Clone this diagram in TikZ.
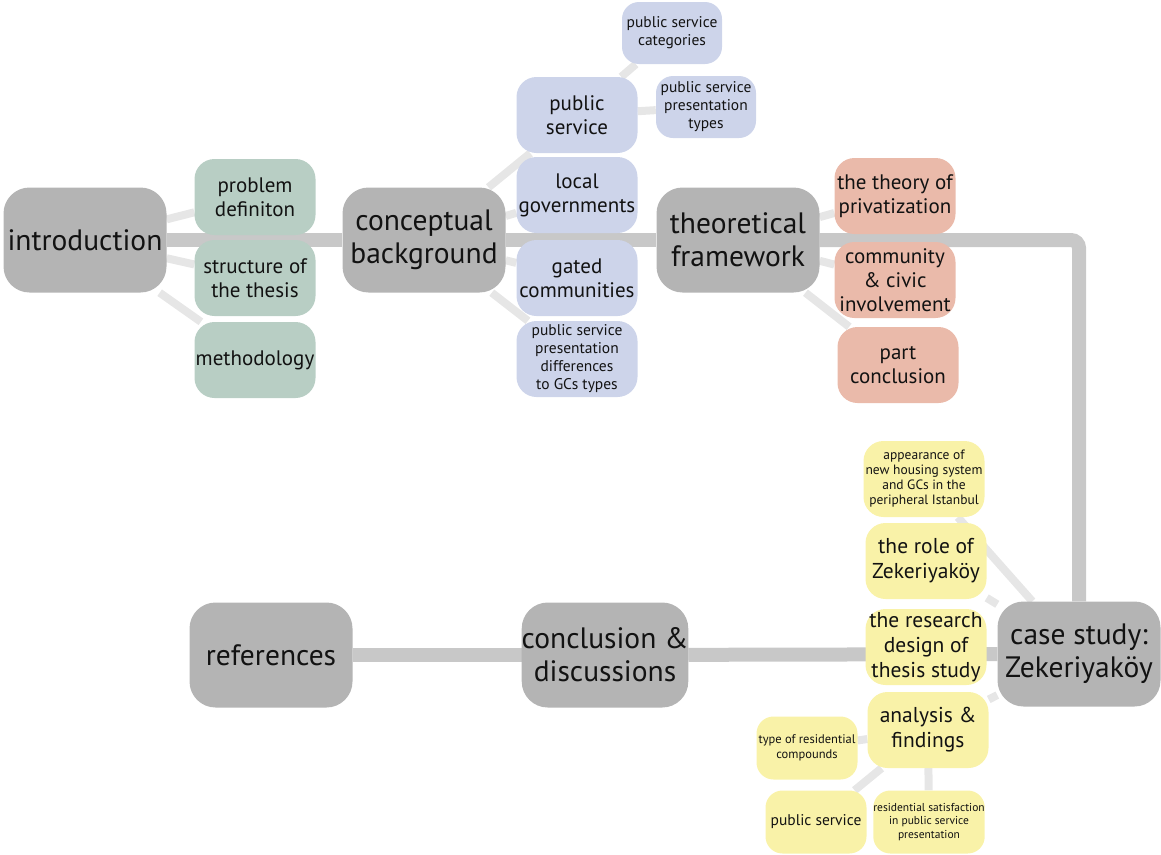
\documentclass[tikz,border=0pt]{standalone}
\usepackage{fontspec}
\setmainfont{PT Sans}
\usetikzlibrary{backgrounds}
\definecolor{gnode}{RGB}{180,180,180}
\definecolor{cgreen}{RGB}{184,206,196}
\definecolor{cblue}{RGB}{205,212,234}
\definecolor{csalmon}{RGB}{234,186,170}
\definecolor{cyellow}{RGB}{249,242,168}
\definecolor{mline}{RGB}{200,200,200}
\definecolor{sline}{RGB}{230,230,230}
\definecolor{txt}{RGB}{18,18,18}
\tikzset{
  box/.style={rounded corners=20pt, inner sep=0pt, align=center, text=txt},
  big/.style={box, rounded corners=26pt, fill=gnode, minimum width=163pt, minimum height=105pt, font=\fontsize{29.5}{33}\selectfont},
  med/.style={box, minimum width=121pt, minimum height=76pt, font=\fontsize{21}{24}\selectfont},
  sml/.style={box, rounded corners=17pt, minimum width=100pt, minimum height=62pt, font=\fontsize{15.5}{18}\selectfont},
  tiny/.style={box, rounded corners=17pt, minimum width=101pt, minimum height=63pt, font=\fontsize{11.5}{13.5}\selectfont},
  mainline/.style={line width=14pt, draw=mline},
  subline/.style={line width=8pt, draw=sline},
}
\begin{document}
\begin{tikzpicture}[x=1pt,y=-1pt]
\useasboundingbox (0,0) rectangle (1161,854);
% main nodes
\node[big] (intro) at (85,240) {introduction};
\node[big] (conc) at (424,240) {conceptual\\background};
\node[big] (theo) at (738,240) {theoretical\\framework};
\node[big] (case) at (1079,654) {case study:\\Zekeriyak\"oy};
\node[big] (cd) at (605,655) {conclusion \&\\discussions};
\node[big] (ref) at (271,655) {references};
% green
\node[med, fill=cgreen] (pd) at (255,197) {problem\\definiton};
\node[med, fill=cgreen] (st) at (255,278) {structure of\\the thesis};
\node[med, fill=cgreen] (meth) at (255,360) {methodology};
% blue
\node[med, fill=cblue] (ps) at (577,115) {public\\service};
\node[med, fill=cblue] (lg) at (577,195) {local\\governments};
\node[med, fill=cblue] (gc) at (577,278) {gated\\communities};
\node[med, fill=cblue, font=\fontsize{15.5}{18}\selectfont] (psd) at (577,359) {public service\\presentation\\differences\\to GCs types};
\node[sml, fill=cblue] (psc) at (672,33) {public service\\categories};
\node[sml, fill=cblue] (pst) at (706,107) {public service\\presentation\\types};
% salmon
\node[med, fill=csalmon] (tp) at (895,196) {the theory of\\privatization};
\node[med, fill=csalmon] (cci) at (895,280) {community\\\& civic\\involvement};
\node[med, fill=csalmon] (pc) at (898,365) {part\\conclusion};
% yellow
\node[med, fill=cyellow, font=\fontsize{13.5}{15}\selectfont] (app) at (924,479) {appearance of\\new housing system\\and GCs in the\\peripheral Istanbul};
\node[med, fill=cyellow, font=\fontsize{21.5}{25}\selectfont] (role) at (926,561) {the role of\\Zekeriyak\"oy};
\node[med, fill=cyellow, font=\fontsize{21.5}{25}\selectfont] (rd) at (926,647) {the research\\design of\\thesis study};
\node[med, fill=cyellow, font=\fontsize{21.5}{25}\selectfont] (af) at (928,730) {analysis \&\\findings};
\node[tiny, fill=cyellow, font=\fontsize{12.5}{15}\selectfont] (trc) at (807,748) {type of residential\\compounds};
\node[tiny, fill=cyellow, font=\fontsize{15.5}{18}\selectfont] (psy) at (816,822) {public service};
\node[tiny, fill=cyellow] (rs) at (929,822) {residential satisfaction\\in public service\\presentation};
\begin{pgfonlayer}{background}
  \draw[subline] (intro) -- (pd);
  \draw[subline] (intro) -- (st);
  \draw[subline] (intro) -- (meth);
  \draw[subline] (conc) -- (ps);
  \draw[subline] (conc) -- (lg);
  \draw[subline] (conc) -- (gc);
  \draw[subline] (conc) -- (psd);
  \draw[subline] (ps) -- (psc);
  \draw[subline] (ps) -- (pst);
  \draw[subline] (theo) -- (tp);
  \draw[subline] (theo) -- (cci);
  \draw[subline] (theo) -- (pc);
  \draw[subline] (case) -- (app);
  \draw[subline] (case) -- (role);
  \draw[subline] (case) -- (af);
  \draw[subline] (af) -- (trc);
  \draw[subline] (af) -- (psy);
  \draw[subline] (af) -- (rs);
  \draw[mainline] (intro) -- (conc);
  \draw[mainline] (conc) -- (theo);
  \draw[mainline, rounded corners=8pt] (theo) -| (case);
  \draw[mainline] (ref) -- (cd);
  \draw[mainline] (cd) -- (case);
\end{pgfonlayer}
\end{tikzpicture}
\end{document}
